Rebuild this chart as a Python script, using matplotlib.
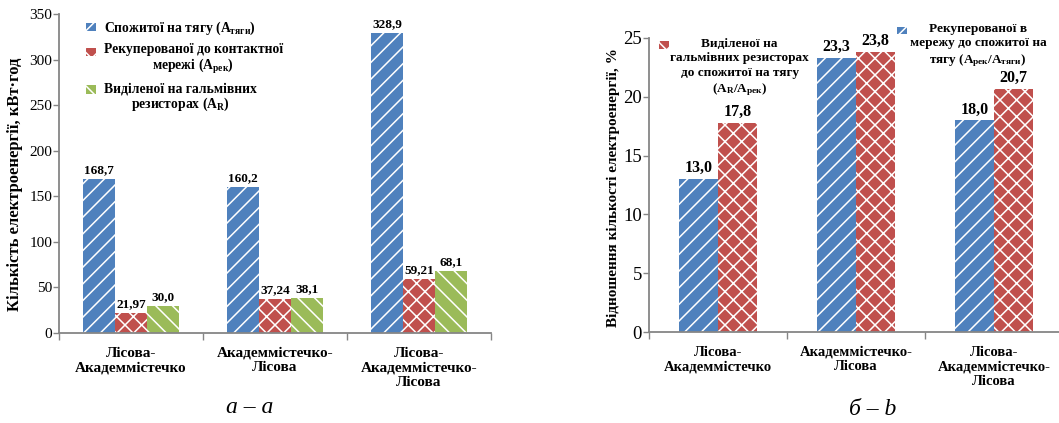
import numpy as np
import matplotlib
matplotlib.use('Agg')
import matplotlib.pyplot as plt
from matplotlib.legend_handler import HandlerPatch
from matplotlib.patches import Rectangle

plt.rcParams['font.family'] = ['Liberation Serif', 'DejaVu Serif']
plt.rcParams['mathtext.default'] = 'regular'
plt.rcParams['hatch.linewidth'] = 1.1

# data
routes = ['Лісова-\nАкадеммістечко', 'Академмістечко-\nЛісова',
          'Лісова-\nАкадеммістечко-\nЛісова']

consumed = [168.7, 160.2, 328.9]
recuperated = [21.97, 37.24, 59.21]
resistors = [30.0, 38.1, 68.1]
consumed_txt = ['168,7', '160,2', '328,9']
recuperated_txt = ['21,97', '37,24', '59,21']
resistors_txt = ['30,0', '38,1', '68,1']

rec_ratio = [13.0, 23.3, 18.0]
res_ratio = [17.8, 23.8, 20.7]
rec_ratio_txt = ['13,0', '23,3', '18,0']
res_ratio_txt = ['17,8', '23,8', '20,7']

BLUE = '#4F81BD'
RED = '#C0504D'
GREEN = '#9BBB59'
GREY = '#868686'


def top_handler(nlines, k):
    # put the legend key next to the first line of a multi-line label
    def make(legend, orig_handle, xdescent, ydescent, width, height, fontsize):
        shift = (nlines - 1) / 2 * k * fontsize
        return Rectangle((-xdescent, -ydescent + shift), width, height)
    return HandlerPatch(patch_func=make)


def style_axes(ax, tick_fs):
    for s in ['top', 'right']:
        ax.spines[s].set_visible(False)
    for s in ['left', 'bottom']:
        ax.spines[s].set_color(GREY)
        ax.spines[s].set_linewidth(1.3)
    ax.tick_params(axis='y', direction='out', length=4, width=1, color=GREY,
                   labelsize=tick_fs, pad=1)
    ax.tick_params(axis='x', which='major', length=0, pad=10)
    ax.tick_params(axis='x', which='minor', direction='out', length=5, width=1,
                   color=GREY)
    ax.set_xticks(np.arange(-0.5, 3.0, 1.0), minor=True)
    ax.set_xlim(-0.5, 2.5)


def center_lines(leg, ls):
    for t in leg.get_texts():
        t.set_multialignment('center')
        t.set_linespacing(ls)


fig = plt.figure(figsize=(10.59, 4.23), dpi=100)

# ---------- chart a ----------
ax1 = fig.add_axes([59 / 1059, 1 - 333 / 423, 432 / 1059, 319 / 423])
x = np.arange(len(routes))
w = 0.222
b1 = ax1.bar(x - w, consumed, w, color=BLUE, edgecolor='white', linewidth=0, hatch='//')
b2 = ax1.bar(x, recuperated, w, color=RED, edgecolor='white', linewidth=0, hatch='xx')
b3 = ax1.bar(x + w, resistors, w, color=GREEN, edgecolor='white', linewidth=0, hatch='\\\\')
for bars, txt in [(b1, consumed_txt), (b2, recuperated_txt), (b3, resistors_txt)]:
    ax1.bar_label(bars, labels=txt, padding=2, fontsize=9.5, fontweight='bold')

ax1.set_ylim(0, 350)
ax1.set_yticks(np.arange(0, 351, 50))
style_axes(ax1, 11)
ax1.set_xticks(x)
ax1.set_xticklabels(routes, fontsize=11, fontweight='bold', linespacing=1.15)
ax1.set_ylabel('Кількість електроенергії, кВт·год', fontsize=12, fontweight='bold')
ax1.yaxis.set_label_coords(-0.083, 0.467)

leg1 = ax1.legend([b1[0], b2[0], b3[0]],
                  ['Спожитої на тягу (A$_{тяги}$)',
                   'Рекуперованої до контактної\nмережі (A$_{рек}$)',
                   'Виділеної на гальмівних\nрезисторах (A$_{R}$)'],
                  handler_map={b1[0]: top_handler(1, 1.23), b2[0]: top_handler(2, 1.23),
                               b3[0]: top_handler(2, 1.23)},
                  loc='upper left', bbox_to_anchor=(86 / 1059, 1 - 20 / 423),
                  bbox_transform=fig.transFigure, frameon=False, borderpad=0,
                  borderaxespad=0, handlelength=0.75, handleheight=0.55,
                  handletextpad=0.55, labelspacing=0.45,
                  prop={'size': 9.8, 'weight': 'bold'})
center_lines(leg1, 1.05)

# ---------- chart b ----------
ax2 = fig.add_axes([649 / 1059, 1 - 332 / 423, 414 / 1059, 294 / 423])
w2 = 0.28
c1 = ax2.bar(x - w2 / 2, rec_ratio, w2, color=BLUE, edgecolor='white', linewidth=0, hatch='//')
c2 = ax2.bar(x + w2 / 2, res_ratio, w2, color=RED, edgecolor='white', linewidth=0, hatch='xx')
for bars, txt in [(c1, rec_ratio_txt), (c2, res_ratio_txt)]:
    ax2.bar_label(bars, labels=txt, padding=2, fontsize=11.5, fontweight='bold')

ax2.set_ylim(0, 25)
ax2.set_yticks(np.arange(0, 26, 5))
style_axes(ax2, 13.5)
ax2.set_xticks(x)
ax2.set_xticklabels(routes, fontsize=10.5, fontweight='bold', linespacing=1.15)
ax2.set_ylabel('Відношення кількості електроенергії, %', fontsize=11, fontweight='bold')
ax2.yaxis.set_label_coords(-0.070, 0.49)

leg_red = ax2.legend([c2[0]],
                     ['Виділеної на\nгальмівних резисторах\nдо спожитої на тягу\n(A$_{R}$/A$_{рек}$)'],
                     handler_map={c2[0]: top_handler(4, 1.15)},
                     loc='upper left', bbox_to_anchor=(659 / 1059, 1 - 38 / 423),
                     bbox_transform=fig.transFigure, frameon=False, borderpad=0,
                     borderaxespad=0, handlelength=0.75, handleheight=0.55,
                     handletextpad=0.1, prop={'size': 9.5, 'weight': 'bold'})
center_lines(leg_red, 1.25)
ax2.add_artist(leg_red)

leg_blue = ax2.legend([c1[0]],
                      ['Рекуперованої в\nмережу до спожитої на\nтягу (A$_{рек}$/A$_{тяги}$)'],
                      handler_map={c1[0]: top_handler(3, 1.15)},
                      loc='upper left', bbox_to_anchor=(897 / 1059, 1 - 23 / 423),
                      bbox_transform=fig.transFigure, frameon=False, borderpad=0,
                      borderaxespad=0, handlelength=0.75, handleheight=0.55,
                      handletextpad=0.2, prop={'size': 9.5, 'weight': 'bold'})
center_lines(leg_blue, 1.25)

# captions
fig.text(250 / 1059, 1 - 407 / 423, 'а – a', ha='center', va='center',
         fontsize=17, style='italic')
fig.text(873 / 1059, 1 - 409 / 423, 'б – b', ha='center', va='center',
         fontsize=17, style='italic')

fig.savefig('out.png', dpi=100)
